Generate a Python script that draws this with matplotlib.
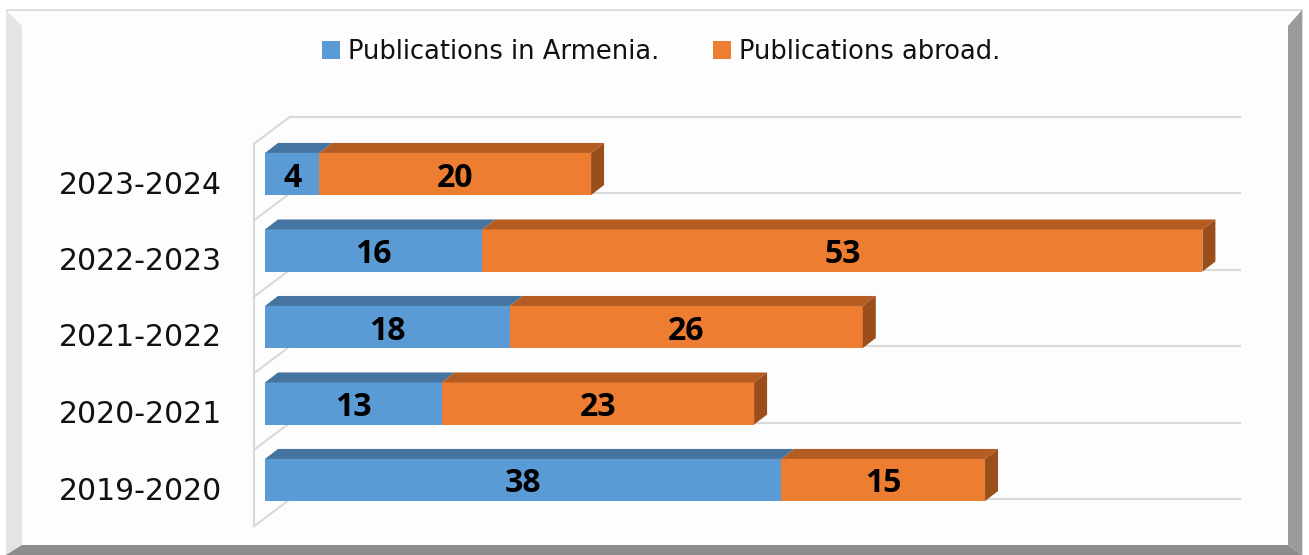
import matplotlib
matplotlib.use('Agg')
import matplotlib.pyplot as plt
from matplotlib.patches import Polygon, Patch

# ---- data ----
categories = ['2019-2020', '2020-2021', '2021-2022', '2022-2023', '2023-2024']
armenia = [38, 13, 18, 16, 4]
abroad = [15, 23, 26, 53, 20]
series_names = ['Publications in Armenia.', 'Publications abroad.']

# ---- style ----
BLUE, BLUE_TOP = '#5B9BD5', '#4574A0'
ORANGE, ORANGE_TOP, ORANGE_SIDE = '#ED7D31', '#B45C22', '#9A4E1C'
GRID = '#D9D9D9'

W, H = 1309, 555
fig = plt.figure(figsize=(W / 100, H / 100), dpi=100)
fig.patch.set_facecolor('white')


def P(x, y):
    return (x / W, 1 - y / H)


# frame with bevel
fig.add_artist(Polygon([P(7, 10), P(1302, 10), P(1302, 555), P(7, 555)], closed=True,
                       facecolor='#FDFDFD', edgecolor='#D6D6D6', lw=1.2,
                       transform=fig.transFigure, zorder=0))
fig.add_artist(Polygon([P(6, 10), P(22, 26), P(22, 545), P(6, 555)], closed=True,
                       facecolor='#E4E4E4', edgecolor='none', transform=fig.transFigure, zorder=0.5))
fig.add_artist(Polygon([P(1302, 10), P(1302, 555), P(1288, 545), P(1288, 26)], closed=True,
                       facecolor='#9B9B9B', edgecolor='none', transform=fig.transFigure, zorder=0.5))
fig.add_artist(Polygon([P(6, 555), P(22, 545), P(1288, 545), P(1302, 555)], closed=True,
                       facecolor='#8C8C8C', edgecolor='none', transform=fig.transFigure, zorder=0.5))

# axes = plane of the bars' front faces
x0, x1 = 265, 1216
yt, yb = 135.75, 518.25
ax = fig.add_axes([x0 / W, (H - yb) / H, (x1 - x0) / W, (yb - yt) / H])
XMAX = 70
ax.set_xlim(0, XMAX)
ax.set_ylim(-0.5, len(categories) - 0.5)
ax.patch.set_visible(False)
for s in ax.spines.values():
    s.set_visible(False)

px_x = XMAX / (x1 - x0)          # data units per pixel (x)
px_y = len(categories) / (yb - yt)  # data units per pixel (y)

# offsets (pixels): back wall, front plane, bar depth
BWX, BWY = 25, 19
FPX, FPY = -11, -8
BDX, BDY = 13, 10

n = len(categories)
bounds = [i - 0.5 for i in range(n + 1)]
# back wall gridlines
for b in bounds:
    ax.plot([BWX * px_x, XMAX + BWX * px_x], [b + BWY * px_y, b + BWY * px_y],
            color=GRID, lw=1.5, clip_on=False, zorder=1, solid_capstyle='butt')
    # left wall diagonals
    ax.plot([FPX * px_x, BWX * px_x], [b + FPY * px_y, b + BWY * px_y],
            color=GRID, lw=1.5, clip_on=False, zorder=1)
# left wall vertical edge
ax.plot([FPX * px_x, FPX * px_x], [bounds[0] + FPY * px_y, bounds[-1] + FPY * px_y],
        color=GRID, lw=1.5, clip_on=False, zorder=1)

h = 0.55
ys = list(range(n))
ax.barh(ys, armenia, height=h, color=BLUE, zorder=3)
ax.barh(ys, abroad, left=armenia, height=h, color=ORANGE, zorder=3)

dx, dy = BDX * px_x, BDY * px_y
lab_dy = -4 * px_y
for y, a, b in zip(ys, armenia, abroad):
    top = y + h / 2
    bot = y - h / 2
    ax.add_patch(Polygon([(0, top), (a, top), (a + dx, top + dy), (dx, top + dy)],
                         closed=True, facecolor=BLUE_TOP, edgecolor='none', zorder=3, clip_on=False))
    ax.add_patch(Polygon([(a, top), (a + b, top), (a + b + dx, top + dy), (a + dx, top + dy)],
                         closed=True, facecolor=ORANGE_TOP, edgecolor='none', zorder=3, clip_on=False))
    ax.add_patch(Polygon([(a + b, bot), (a + b, top), (a + b + dx, top + dy), (a + b + dx, bot + dy)],
                         closed=True, facecolor=ORANGE_SIDE, edgecolor='none', zorder=3, clip_on=False))
    ax.text(a / 2, y + lab_dy, str(a), ha='center', va='center', fontsize=23, fontweight='bold',
            family='Open Sans', color='black', zorder=5)
    ax.text(a + b / 2, y + lab_dy, str(b), ha='center', va='center', fontsize=23, fontweight='bold',
            family='Open Sans', color='black', zorder=5)

# category labels (aligned with the front plane)
ax.set_xticks([])
ax.set_yticks([i + FPY * px_y for i in ys], categories)
ax.tick_params(axis='y', length=0, pad=43 * 0.72, labelsize=21.5, labelcolor='#111111')

# legend
handles = [Patch(facecolor=BLUE), Patch(facecolor=ORANGE)]
fig.legend(handles, series_names, loc='center', bbox_to_anchor=(661 / W, 1 - 52 / H),
           ncol=2, frameon=False, fontsize=18.5, handlelength=0.7, handleheight=0.7,
           handletextpad=0.3, columnspacing=2.1, borderaxespad=0, labelcolor='#111111')

fig.savefig('out.png', dpi=100, facecolor='white')
